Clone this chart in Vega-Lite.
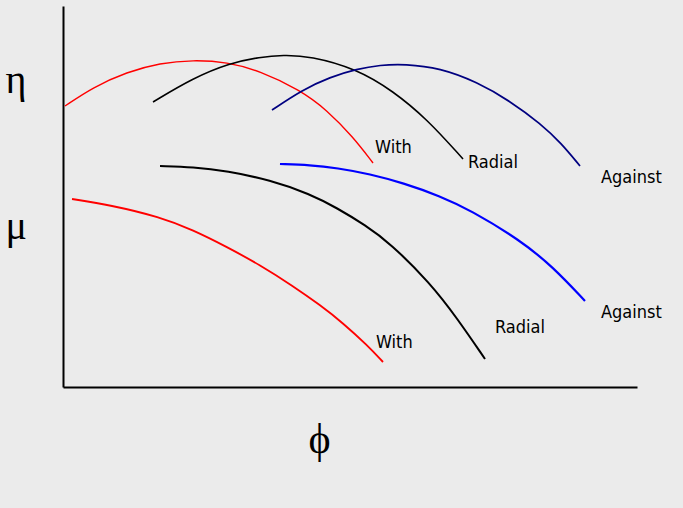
{
  "$schema": "https://vega.github.io/schema/vega-lite/v6.json",
  "width": 574,
  "height": 381,
  "autosize": {"type": "none"},
  "padding": {"left": 63, "top": 6, "right": 46, "bottom": 121},
  "background": "#ebebeb",
  "config": {"view": {"stroke": null}},
  "datasets": {
    "curves": [
      {"s": "eta_with", "x": 0.35, "y": 73.75}, {"s": "eta_with", "x": 5.23, "y": 78.7}, {"s": "eta_with", "x": 11.15, "y": 82.68}, {"s": "eta_with", "x": 16.9, "y": 85.04}, {"s": "eta_with", "x": 22.65, "y": 85.83}, {"s": "eta_with", "x": 28.57, "y": 85.3}, {"s": "eta_with", "x": 34.32, "y": 82.94}, {"s": "eta_with", "x": 41.29, "y": 77.95}, {"s": "eta_with", "x": 45.99, "y": 72.7}, {"s": "eta_with", "x": 50.52, "y": 65.62}, {"s": "eta_with", "x": 54.01, "y": 58.79},
      {"s": "eta_radial", "x": 15.68, "y": 74.8}, {"s": "eta_radial", "x": 22.65, "y": 81.1}, {"s": "eta_radial", "x": 29.09, "y": 85.04}, {"s": "eta_radial", "x": 34.32, "y": 86.61}, {"s": "eta_radial", "x": 38.33, "y": 87.14}, {"s": "eta_radial", "x": 43.03, "y": 86.88}, {"s": "eta_radial", "x": 51.22, "y": 83.46}, {"s": "eta_radial", "x": 57.49, "y": 77.69}, {"s": "eta_radial", "x": 63.41, "y": 70.34}, {"s": "eta_radial", "x": 69.69, "y": 59.84},
      {"s": "eta_against", "x": 36.41, "y": 72.7}, {"s": "eta_against", "x": 41.64, "y": 77.95}, {"s": "eta_against", "x": 46.52, "y": 81.36}, {"s": "eta_against", "x": 51.22, "y": 83.46}, {"s": "eta_against", "x": 55.23, "y": 84.51}, {"s": "eta_against", "x": 59.58, "y": 84.78}, {"s": "eta_against", "x": 65.68, "y": 83.73}, {"s": "eta_against", "x": 72.13, "y": 80.05}, {"s": "eta_against", "x": 77.87, "y": 75.07}, {"s": "eta_against", "x": 83.28, "y": 69.03}, {"s": "eta_against", "x": 86.76, "y": 64.04}, {"s": "eta_against", "x": 90.07, "y": 58.01},
      {"s": "mu_with", "x": 1.57, "y": 49.34}, {"s": "mu_with", "x": 8.19, "y": 47.77}, {"s": "mu_with", "x": 16.9, "y": 44.62}, {"s": "mu_with", "x": 22.65, "y": 41.21}, {"s": "mu_with", "x": 28.57, "y": 36.75}, {"s": "mu_with", "x": 34.32, "y": 32.02}, {"s": "mu_with", "x": 40.07, "y": 26.51}, {"s": "mu_with", "x": 44.77, "y": 21.52}, {"s": "mu_with", "x": 48.78, "y": 16.8}, {"s": "mu_with", "x": 52.96, "y": 11.02}, {"s": "mu_with", "x": 55.75, "y": 6.56},
      {"s": "mu_radial", "x": 16.9, "y": 58.01}, {"s": "mu_radial", "x": 22.65, "y": 57.74}, {"s": "mu_radial", "x": 28.57, "y": 56.69}, {"s": "mu_radial", "x": 36.06, "y": 54.33}, {"s": "mu_radial", "x": 43.03, "y": 50.66}, {"s": "mu_radial", "x": 47.74, "y": 46.98}, {"s": "mu_radial", "x": 52.61, "y": 42.52}, {"s": "mu_radial", "x": 56.97, "y": 37.8}, {"s": "mu_radial", "x": 63.94, "y": 27.3}, {"s": "mu_radial", "x": 68.64, "y": 18.11}, {"s": "mu_radial", "x": 73.52, "y": 7.35},
      {"s": "mu_against", "x": 37.8, "y": 58.53}, {"s": "mu_against", "x": 43.03, "y": 58.27}, {"s": "mu_against", "x": 47.74, "y": 57.48}, {"s": "mu_against", "x": 53.48, "y": 55.91}, {"s": "mu_against", "x": 59.23, "y": 53.54}, {"s": "mu_against", "x": 65.68, "y": 50.13}, {"s": "mu_against", "x": 70.91, "y": 46.46}, {"s": "mu_against", "x": 79.62, "y": 38.58}, {"s": "mu_against", "x": 85.37, "y": 31.5}, {"s": "mu_against", "x": 90.94, "y": 22.57}
    ],
    "labels": [
      {"t": "With", "x": 54.36, "y": 61.42},
      {"t": "Radial", "x": 70.56, "y": 57.48},
      {"t": "Against", "x": 93.73, "y": 53.54},
      {"t": "Against", "x": 93.73, "y": 18.11},
      {"t": "Radial", "x": 75.26, "y": 14.17},
      {"t": "With", "x": 54.53, "y": 10.24}
    ]
  },
  "encoding": {
    "x": {
      "field": "x", "type": "quantitative",
      "scale": {"domain": [0, 100], "nice": false, "zero": false},
      "axis": {
        "title": "ϕ", "titleFont": "Liberation Serif", "titleFontSize": 42, "titleFontWeight": "normal", "titleColor": "black",
        "titleBaseline": "alphabetic", "titleX": 256, "titleY": 65, "titleAlign": "center",
        "labels": false, "ticks": false, "tickSize": 0, "grid": false,
        "domainColor": "black", "domainWidth": 2
      }
    },
    "y": {
      "field": "y", "type": "quantitative",
      "scale": {"domain": [0, 100], "nice": false, "zero": false},
      "axis": {
        "title": null, "values": [77.4, 39.1],
        "labelExpr": "datum.value > 60 ? 'η' : 'μ'",
        "labelFont": "Liberation Serif", "labelFontSize": 40, "labelColor": "black",
        "labelAlign": "left", "labelBaseline": "alphabetic", "labelPadding": 58,
        "ticks": false, "tickSize": 0, "grid": false,
        "domainColor": "black", "domainWidth": 2
      }
    }
  },
  "layer": [
    {
      "data": {"name": "curves"},
      "mark": {"type": "line", "interpolate": "basis", "clip": false},
      "encoding": {
        "detail": {"field": "s"},
        "color": {
          "field": "s", "type": "nominal", "legend": null,
          "scale": {
            "domain": ["eta_with", "eta_radial", "eta_against", "mu_with", "mu_radial", "mu_against"],
            "range": ["#ff0000", "#000000", "#000080", "#ff0000", "#000000", "#0000ff"]
          }
        },
        "strokeWidth": {
          "field": "s", "type": "nominal", "legend": null,
          "scale": {
            "domain": ["eta_with", "eta_radial", "eta_against", "mu_with", "mu_radial", "mu_against"],
            "range": [1.4, 2.2, 1.6, 1.4, 2.2, 1.8]
          }
        }
      }
    },
    {
      "data": {"name": "labels"},
      "mark": {"type": "text", "align": "left", "baseline": "alphabetic", "font": "Liberation Sans Narrow, DejaVu Sans Condensed, Liberation Sans", "fontSize": 18, "color": "black", "clip": false},
      "encoding": {"text": {"field": "t"}}
    }
  ]
}
